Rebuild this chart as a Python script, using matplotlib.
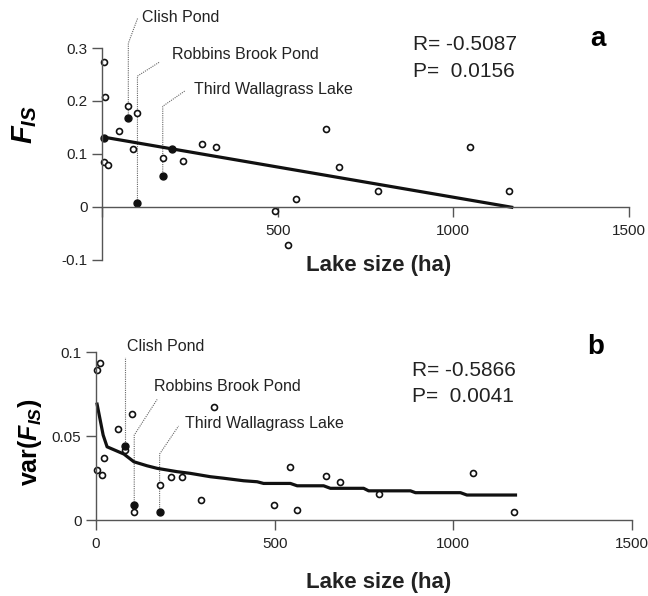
import matplotlib
matplotlib.use("Agg")
import matplotlib.pyplot as plt
import numpy as np

plt.rcParams['font.family'] = ['Liberation Sans', 'DejaVu Sans']
plt.rcParams['mathtext.fontset'] = 'custom'
plt.rcParams['mathtext.rm'] = 'Liberation Sans:bold'
plt.rcParams['mathtext.it'] = 'Liberation Sans:italic:bold'
plt.rcParams['mathtext.bf'] = 'Liberation Sans:bold'

# ---- panel a: F_IS vs lake size ----
a_x_open = [5, 10, 75, 101, 48, 88, 5, 17, 173, 231, 284, 324, 551, 493, 531,
            637, 676, 787, 1048, 1159]
a_y_open = [0.273, 0.207, 0.19, 0.178, 0.143, 0.109, 0.084, 0.079, 0.092, 0.087,
            0.118, 0.114, 0.015, -0.007, -0.072, 0.148, 0.075, 0.031, 0.113, 0.031]
a_x_fill = [7, 74, 101, 173, 199]
a_y_fill = [0.131, 0.168, 0.008, 0.058, 0.109]
a_fit_x = [5, 1171]
a_fit_y = [0.1318, -0.001]
a_r, a_p = "-0.5087", "0.0156"

# ---- panel b: var(F_IS) vs lake size ----
b_x_open = [2, 11, 2, 18, 23, 62, 100, 81, 107, 178, 209, 242, 293, 331, 498,
            542, 562, 643, 683, 793, 1054, 1171]
b_y_open = [0.0893, 0.0933, 0.0298, 0.0268, 0.037, 0.054, 0.063, 0.0415, 0.0048,
            0.0208, 0.0256, 0.0254, 0.0117, 0.0675, 0.0087, 0.0317, 0.0061,
            0.0264, 0.0224, 0.0157, 0.0278, 0.0049]
b_x_fill = [82, 107, 178]
b_y_fill = [0.044, 0.0091, 0.0049]
b_fit_x = [3, 20, 31, 78, 106, 143, 171, 227, 264, 320, 357, 413, 451, 469, 544,
           563, 637, 656, 749, 763, 880, 894, 1020, 1038, 1174]
b_fit_y = [0.069, 0.0506, 0.0436, 0.0393, 0.0347, 0.0323, 0.0308, 0.0288, 0.0278,
           0.0258, 0.0249, 0.0234, 0.0228, 0.0218, 0.0218, 0.0204, 0.0204, 0.0189,
           0.0189, 0.0174, 0.0174, 0.0163, 0.0163, 0.0149, 0.0149]
b_r, b_p = "-0.5866", "0.0041"

lake_names = ["Clish Pond", "Robbins Brook Pond", "Third Wallagrass Lake"]
# leader paths (x, y) in data units: vertical from point then diagonal to label
a_leaders = [([75, 75, 102], [0.168, 0.309, 0.357]),
             ([101, 101, 165], [0.008, 0.247, 0.274]),
             ([173, 173, 236], [0.058, 0.19, 0.219])]
a_label_pos = [(114, 0.358), (199, 0.287), (262, 0.221)]
b_leaders = [([80, 80], [0.044, 0.0972]),
             ([107, 107, 171], [0.0091, 0.0506, 0.0718]),
             ([178, 178, 231], [0.0049, 0.0393, 0.056])]
b_label_pos = [(87, 0.1032), (161, 0.0798), (250, 0.0576)]

fig = plt.figure(figsize=(6.48, 5.96), dpi=100)
ax1 = fig.add_axes([0.1357, 0.5371, 0.851, 0.4535])
ax2 = fig.add_axes([0.1261, 0.0936, 0.8657, 0.3495])

spc = '#555555'


def style(ax, ylo, yhi, yticks, yticklabels):
    for s in ['top', 'right']:
        ax.spines[s].set_visible(False)
    ax.spines['left'].set_position(('data', 0))
    ax.spines['bottom'].set_position(('data', 0))
    ax.spines['left'].set_bounds(ylo, yhi)
    ax.spines['bottom'].set_bounds(0, 1500)
    for s in ['left', 'bottom']:
        ax.spines[s].set_color(spc)
        ax.spines[s].set_linewidth(1.0)
    ax.set_yticks(yticks)
    ax.set_yticklabels(yticklabels)
    ax.tick_params(axis='both', direction='out', length=7, width=1.0,
                   color=spc, labelsize=11, labelcolor='#222222')
    ax.tick_params(axis='x', pad=5)


# panel a
ax1.set_xlim(-40, 1530)
ax1.set_ylim(-0.13, 0.38)
style(ax1, -0.1, 0.3, [-0.1, 0, 0.1, 0.2, 0.3], ['-0.1', '0', '0.1', '0.2', '0.3'])
ax1.set_xticks([0, 500, 1000, 1500])
ax1.set_xticklabels(['', '500', '1000', '1500'])
for (lx, ly) in a_leaders:
    ax1.plot(lx, ly, color='#666666', lw=0.8, ls=(0, (1, 1)), clip_on=False)
ax1.plot(a_fit_x, a_fit_y, color='#111111', lw=2.3, solid_capstyle='butt')
ax1.plot(a_x_open, a_y_open, 'o', ms=4.3, mfc='white', mec='#111111', mew=1.2)
ax1.plot(a_x_fill, a_y_fill, 'o', ms=5, mfc='#111111', mec='#111111', mew=1)
for name, (tx, ty) in zip(lake_names, a_label_pos):
    ax1.text(tx, ty, name, fontsize=11.5, ha='left', va='center', color='#222222')
ax1.text(885, 0.306, "R= " + a_r, fontsize=15, ha='left', va='center', color='#222222')
ax1.text(885, 0.255, "P=  " + a_p, fontsize=15, ha='left', va='center', color='#222222')
ax1.text(1389, 0.317, "a", fontsize=20, fontweight='bold', ha='left', va='center')
ax1.text(0.528, 0.0366, "Lake size (ha)", transform=ax1.transAxes, fontsize=16,
         fontweight='bold', ha='center', va='center', color='#222222')
ax1.text(-0.114, 0.56, r"$F_{IS}$", transform=ax1.transAxes, fontsize=21,
         rotation=90, ha='center', va='center')

# panel b
ax2.set_xlim(-40, 1530)
ax2.set_ylim(-0.012, 0.112)
style(ax2, 0, 0.1, [0, 0.05, 0.1], ['0', '0.05', '0.1'])
ax2.set_xticks([0, 500, 1000, 1500])
ax2.set_xticklabels(['0', '500', '1000', '1500'])
for (lx, ly) in b_leaders:
    ax2.plot(lx, ly, color='#666666', lw=0.8, ls=(0, (1, 1)), clip_on=False)
ax2.plot(b_fit_x, b_fit_y, color='#111111', lw=2.3)
ax2.plot(b_x_open, b_y_open, 'o', ms=4.3, mfc='white', mec='#111111', mew=1.2)
ax2.plot(b_x_fill, b_y_fill, 'o', ms=5, mfc='#111111', mec='#111111', mew=1)
for name, (tx, ty) in zip(lake_names, b_label_pos):
    ax2.text(tx, ty, name, fontsize=11.5, ha='left', va='center', color='#222222')
ax2.text(884, 0.0893, "R= " + b_r, fontsize=15, ha='left', va='center', color='#222222')
ax2.text(884, 0.0734, "P=  " + b_p, fontsize=15, ha='left', va='center', color='#222222')
ax2.text(1374, 0.1032, "b", fontsize=20, fontweight='bold', ha='left', va='center')
ax2.text(0.53, -0.2007, "Lake size (ha)", transform=ax2.transAxes, fontsize=16,
         fontweight='bold', ha='center', va='center', color='#222222')
ax2.text(-0.092, 0.47, r"var($F_{IS}$)", transform=ax2.transAxes, fontsize=18,
         fontweight='bold', rotation=90, ha='center', va='center')

fig.savefig("out.png", dpi=100)
